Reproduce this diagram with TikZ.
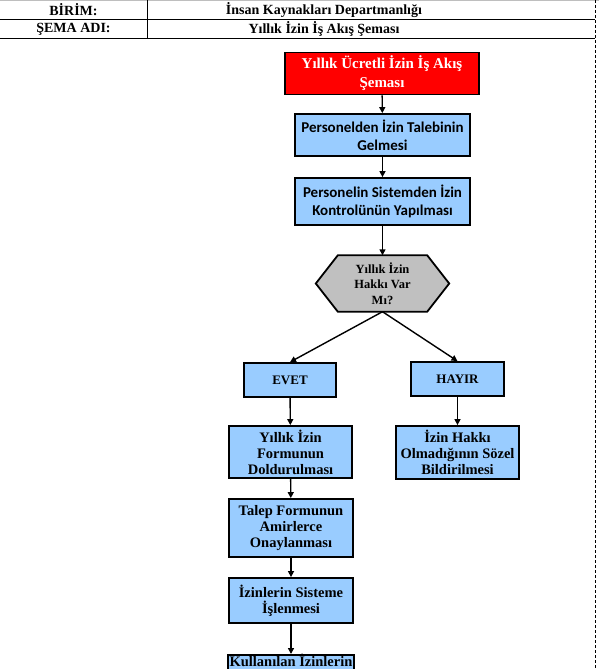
\documentclass[tikz,border=0pt]{standalone}
\usepackage{fontspec}
\setmainfont{Liberation Serif}
\newfontfamily\calibri{Carlito}
\usetikzlibrary{arrows.meta,backgrounds}
\newcommand{\Unit}{1pt}
\newcommand{\Edge}{1.8pt}
\newcommand{\Flow}{1.4pt}
\newcommand{\Cut}{22}
\definecolor{boxblue}{HTML}{99CCFF}
\definecolor{boxred}{HTML}{FF0000}
\definecolor{boxgrey}{HTML}{C0C0C0}
\definecolor{rulegrey}{HTML}{BEBEBE}
\definecolor{ink}{HTML}{000000}

\begin{document}
\begin{tikzpicture}[x=\Unit,y=-\Unit, line join=miter,
  box/.style={draw=ink, line width=\Edge, fill=boxblue, align=center, inner sep=0pt,
    font=\bfseries\fontsize{14.5}{16}\selectfont},
  sans/.style={font=\calibri\bfseries\fontsize{15}{18}\selectfont},
  short/.style={font=\bfseries\fontsize{13}{16}\selectfont},
  flow/.style={-{Triangle[length=6pt,width=6pt]}, line width=\Flow, draw=ink},
  head/.style={font=\bfseries\fontsize{14}{16}\selectfont, inner sep=0pt}]

  % ---- the page -----------------------------------------------------------
  \useasboundingbox (0,0) rectangle (599,669);
  \clip (0,0) rectangle (599,669);

  % ---- the header table ---------------------------------------------------
  % Only the two rows are shown; the table runs on past the page edge.
  \draw[rulegrey,line width=1.2pt] (0,0.6) -- (599,0.6);
  \draw[ink,line width=0.9pt] (0,19) -- (595,19);
  \draw[ink,line width=0.9pt] (0,38) -- (595,38);
  \draw[ink,line width=0.9pt] (147,0) -- (147,38);
  \draw[ink,line width=0.9pt,dash pattern=on 3pt off 2pt] (595.5,0) -- (595.5,669);
  \node[head] (birim) at (73.5,10) {BİRİM:};
  \node[head] (birimad) at (324,10) {İnsan Kaynakları Departmanlığı};
  \node[head] (sema) at (73.5,29) {ŞEMA ADI:};
  \node[head] (semaad) at (324,29) {Yıllık İzin İş Akış Şeması};

  % ---- the main column ----------------------------------------------------
  \node[box, fill=boxred, text=white, minimum width=194, minimum height=42,
    font=\bfseries\fontsize{15}{19}\selectfont] (baslik)
    at (382,73.5) {Yıllık Ücretli İzin İş Akış\\Şeması};
  \node[box, sans, minimum width=175, minimum height=42] (talep)
    at (382.5,135) {Personelden İzin Talebinin\\Gelmesi};
  \node[box, sans, minimum width=175, minimum height=47] (kontrol)
    at (382.5,201.5) {Personelin Sistemden İzin\\Kontrolünün Yapılması};

  % ---- the question -------------------------------------------------------
  % The node only holds the text; the hexagon is drawn behind it.
  \node[align=center, inner sep=0pt, minimum width=133, minimum height=56,
    font=\bfseries\fontsize{12.5}{15.5}\selectfont] (soru)
    at (382.5,283.5) {Yıllık İzin\\Hakkı Var\\Mı?};
  \begin{scope}[on background layer]
    \filldraw[boxgrey, draw=ink, line width=\Edge]
      (soru.west) -- ([xshift=\Cut]soru.north west) -- ([xshift=-\Cut]soru.north east)
      -- (soru.east) -- ([xshift=-\Cut]soru.south east) -- ([xshift=\Cut]soru.south west)
      -- cycle;
  \end{scope}

  % ---- the two answers ----------------------------------------------------
  \node[box, short, minimum width=92, minimum height=34] (evet) at (290,380) {EVET};
  \node[box, short, minimum width=93, minimum height=34] (hayir) at (457.5,379) {HAYIR};

  \node[box, minimum width=123, minimum height=52] (form)
    at (290.5,452) {Yıllık İzin\\Formunun\\Doldurulması};
  \node[box, minimum width=123, minimum height=53] (sozel)
    at (457.5,452.5) {İzin Hakkı\\Olmadığının Sözel\\Bildirilmesi};
  \node[box, minimum width=124, minimum height=58] (onay)
    at (291,528) {Talep Formunun\\Amirlerce\\Onaylanması};
  \node[box, minimum width=124, minimum height=45] (islem)
    at (291,600.5) {İzinlerin Sisteme\\İşlenmesi};
  % The last box runs off the bottom of the page.
  \node[box, anchor=north, minimum width=126, text height=10pt, text depth=40pt,
    inner ysep=2pt] (kullan) at (291,654) {Kullanılan İzinlerin};

  % ---- the arrows ---------------------------------------------------------
  \draw[flow] (baslik) -- (talep);
  \draw[flow] (talep) -- (kontrol);
  \draw[flow] (kontrol) -- (soru);
  \draw[flow] (soru.south) -- (evet.north);
  \draw[flow] (soru.south) -- (hayir.north);
  \draw[flow] (evet) -- (form);
  \draw[flow] (hayir) -- (sozel);
  \draw[flow] (form) -- (onay);
  \draw[flow] (onay) -- (islem);
  \draw[flow] (islem) -- (kullan);

\end{tikzpicture}
\end{document}
